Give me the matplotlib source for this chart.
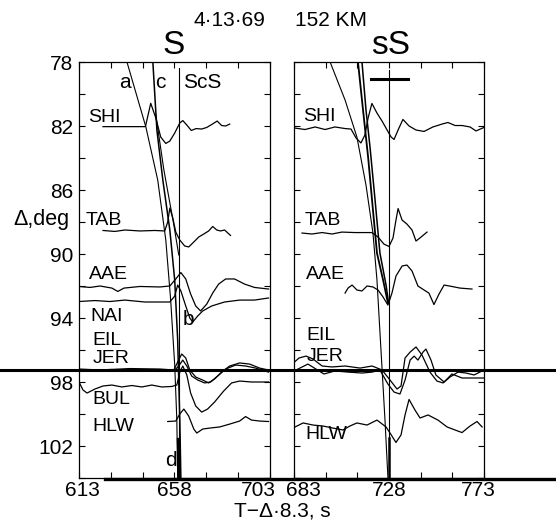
import matplotlib
matplotlib.use('Agg')
import matplotlib.pyplot as plt
from matplotlib.lines import Line2D
from matplotlib.transforms import ScaledTranslation

plt.rcParams['font.family'] = ['Liberation Sans', 'DejaVu Sans']

# ---- S window (left panel): (time s, distance deg) ----
shi_s_t = [624.3, 644.3, 646.8, 649.2, 651.5, 653.9, 655.8, 658.1, 660.5, 661.9, 663.8, 665.9,
           668.2, 670.8, 673.2, 675.5, 678.1, 680.2, 682.1, 684.0]
shi_s_d = [82.04, 82.04, 80.58, 81.5, 82.69, 83.09, 82.94, 82.44, 81.81, 81.66, 81.94, 82.28,
           82.16, 82.19, 82.09, 81.91, 81.69, 81.97, 82.0, 81.88]
tab_s_t = [624.3, 629.9, 634.6, 641.7, 648.7, 653.4, 654.8, 655.8, 657.2, 658.6, 660.5, 662.8,
           664.7, 667.1, 669.4, 671.8, 674.1, 676.0, 677.9, 679.7, 681.6, 684.4]
tab_s_d = [88.53, 88.59, 88.5, 88.56, 88.53, 88.56, 88.0, 87.13, 87.75, 88.63, 89.13, 89.5,
           89.56, 89.25, 88.94, 88.75, 88.56, 88.28, 88.5, 88.56, 88.5, 88.84]
aae_s_t = [613.0, 618.2, 622.9, 628.5, 631.3, 634.2, 641.7, 651.1, 655.8, 658.6, 661.0, 663.3,
           665.6, 668.0, 670.3, 673.2, 676.0, 678.8, 682.1, 686.3, 691.0, 695.7, 702.3]
aae_s_d = [92.03, 92.09, 92.0, 92.13, 92.34, 92.13, 92.03, 92.06, 92.0, 91.56, 91.16, 91.56,
           92.5, 93.25, 93.56, 93.13, 92.44, 91.88, 91.56, 91.56, 91.88, 92.09, 92.19]
nai_s_t = [613.0, 620.5, 627.6, 634.6, 644.0, 655.8, 658.1, 659.5, 661.0, 663.3, 665.2, 666.6,
           668.9, 671.3, 675.5, 681.6, 688.7, 695.7, 702.3]
nai_s_d = [92.97, 92.91, 92.97, 92.88, 93.0, 93.0, 92.63, 91.94, 92.31, 93.25, 94.0, 94.25,
           93.88, 93.56, 93.25, 93.0, 92.88, 92.88, 92.75]
eil_s_t = [613.0, 622.9, 637.0, 651.1, 657.7, 659.5, 661.4, 663.3, 665.2, 668.0, 671.3, 674.1,
           676.9, 680.2, 684.0, 688.7, 693.4, 698.1, 702.3]
eil_s_d = [97.19, 97.25, 97.16, 97.19, 97.25, 96.75, 96.25, 96.5, 97.25, 97.69, 97.88, 98.06,
           97.81, 97.38, 97.0, 96.81, 96.88, 97.13, 97.25]
jer_s_t = [613.0, 627.6, 641.7, 657.7, 660.0, 661.9, 663.8, 666.1, 669.0, 672.2, 675.0, 678.3,
           682.1, 686.8, 691.5, 696.2, 702.3]
jer_s_d = [97.31, 97.22, 97.28, 97.31, 97.0, 96.63, 97.0, 97.63, 97.88, 98.06, 98.0, 97.63,
           97.19, 96.94, 97.0, 97.13, 97.38]
bul_s_t = [613.0, 614.9, 616.8, 620.5, 624.3, 628.5, 633.2, 637.9, 642.6, 647.3, 652.0, 656.7,
           659.1, 660.5, 661.9, 663.8, 665.6, 668.0, 670.8, 673.6, 676.9, 681.2, 684.9, 688.7,
           694.3, 702.3]
bul_s_d = [98.0, 98.5, 98.69, 98.44, 98.25, 98.19, 98.31, 98.22, 98.31, 98.19, 98.31, 98.28,
           98.19, 97.38, 97.0, 97.56, 98.69, 99.5, 99.88, 99.69, 99.25, 98.56, 98.06, 97.94,
           98.0, 98.0]
hlw_s_t = [654.8, 658.6, 660.5, 662.4, 664.7, 667.1, 668.5, 671.3, 674.6, 679.3, 684.0, 688.7,
           691.5, 694.3, 698.1, 702.3]
hlw_s_d = [100.47, 100.44, 100.0, 99.69, 100.13, 100.94, 101.19, 100.94, 100.88, 100.81,
           100.63, 100.44, 100.16, 100.38, 100.44, 100.47]

# travel-time curves, S window
a_t = [635.6, 644.5, 650.1, 653.9, 656.2, 658.1, 659.1, 659.5]
a_d = [78.0, 82.06, 85.38, 89.13, 92.88, 96.94, 100.38, 104.0]
c_t = [647.8, 649.7, 652.5, 655.8, 658.1, 659.5, 660.5, 661.0]
c_d = [78.0, 82.25, 85.38, 88.5, 91.63, 95.38, 100.38, 104.0]
c2_t = [649.2, 653.0, 657.7, 660.0]
c2_d = [81.31, 84.75, 88.19, 90.06]
scs_t = 660.2

# ---- sS window (right panel) ----
shi_ss_t = [683.5, 688.2, 693.0, 697.7, 702.4, 707.2, 710.0, 712.4, 714.7, 716.6, 718.1, 719.9,
            722.3, 724.7, 727.1, 729.0, 730.4, 732.3, 734.6, 737.5, 740.8, 744.6, 748.8, 753.1,
            755.9, 759.3, 762.6, 766.4, 769.2, 773.0]
shi_ss_d = [82.13, 82.22, 82.06, 82.22, 82.06, 82.16, 82.19, 82.75, 83.06, 82.56, 81.5, 80.59,
            81.19, 81.69, 82.25, 82.69, 82.84, 82.25, 81.59, 82.0, 82.25, 82.34, 82.06, 81.88,
            81.78, 81.97, 81.97, 82.06, 82.31, 82.09]
tab_ss_t = [686.8, 691.5, 696.3, 701.0, 705.7, 711.9, 719.9, 722.8, 725.6, 728.0, 729.9, 731.3,
            732.3, 734.2, 736.5, 738.9, 740.8, 743.2, 746.0]
tab_ss_d = [88.69, 88.75, 88.66, 88.75, 88.63, 88.66, 88.66, 88.94, 89.38, 89.53, 89.0, 87.88,
            87.16, 87.88, 88.13, 88.5, 89.19, 88.94, 88.63]
aae_ss_t = [707.2, 708.6, 710.5, 712.8, 715.2, 717.6, 720.4, 722.8, 725.2, 727.5, 729.4, 731.3,
            734.2, 736.5, 738.9, 741.7, 744.6, 746.9, 749.3, 751.7, 754.1, 757.8, 761.6, 767.3]
aae_ss_d = [92.44, 92.13, 91.94, 92.25, 92.31, 92.0, 92.06, 92.25, 92.69, 93.19, 92.44, 91.38,
            90.75, 90.69, 91.06, 92.0, 92.25, 92.44, 93.16, 92.5, 91.94, 92.03, 92.13, 92.19]
eil_ss_t = [682.1, 685.4, 688.7, 692.0, 696.3, 701.0, 707.2, 714.3, 720.0, 724.7, 728.5, 731.8,
            733.7, 735.6, 738.0, 740.8, 743.6, 747.4, 750.7, 753.6, 756.9, 760.7, 764.5, 768.3,
            773.0]
eil_ss_d = [96.88, 96.5, 96.38, 96.56, 97.0, 97.06, 97.0, 97.13, 97.0, 97.25, 97.88, 98.44,
            98.25, 96.5, 96.13, 95.81, 96.31, 97.38, 97.94, 98.06, 97.69, 97.38, 97.44, 97.56,
            97.25]
jer_ss_t = [682.1, 685.8, 689.6, 693.4, 697.2, 702.4, 708.6, 715.2, 720.0, 723.7, 727.5, 730.4,
            733.2, 735.6, 738.0, 739.9, 741.7, 744.1, 745.5, 747.9, 750.2, 754.1, 757.8, 762.6,
            767.3, 773.0]
jer_ss_d = [97.38, 97.13, 96.88, 97.19, 97.5, 97.31, 97.38, 97.44, 97.38, 97.25, 98.13, 98.63,
            98.75, 97.88, 96.63, 96.38, 96.63, 96.13, 95.94, 96.63, 97.56, 98.0, 97.5, 97.75,
            97.75, 97.75]
hlw_ss_t = [683.5, 687.3, 692.0, 696.7, 701.5, 706.2, 709.5, 712.8, 717.6, 722.3, 726.6, 728.5,
            731.3, 733.7, 735.6, 737.5, 740.3, 742.7, 746.5, 751.2, 755.5, 759.3, 762.6, 766.4,
            769.7, 772.1]
hlw_ss_d = [100.81, 100.56, 100.69, 100.75, 100.88, 101.0, 100.75, 100.56, 100.69, 100.38,
            100.81, 101.19, 101.78, 101.31, 100.06, 99.09, 99.75, 100.25, 100.06, 100.38,
            100.81, 101.0, 101.16, 100.75, 100.47, 100.81]

# travel-time curves, sS window
a2_t = [700.1, 707.2, 712.8, 717.1, 720.4, 722.3, 724.2, 726.1, 727.5]
a2_d = [78.0, 80.38, 82.69, 85.69, 88.69, 91.63, 96.0, 100.38, 104.0]
b2_t = [713.3, 715.7, 718.1, 720.4, 722.3, 725.2, 727.5]
b2_d = [78.0, 81.0, 83.94, 87.25, 89.94, 91.63, 93.06]
c3_t = [715.2, 717.1, 719.0, 721.4, 723.7, 726.6, 727.8]
c3_d = [78.0, 81.0, 83.31, 86.63, 89.94, 91.94, 93.06]
ss_t = 728.2

left_labels = [('SHI', 617.1, 81.47), ('TAB', 616.3, 87.88), ('AAE', 617.7, 91.3),
               ('NAI', 618.2, 93.9), ('EIL', 619.1, 95.4), ('JER', 619.6, 96.5),
               ('BUL', 619.1, 99.1), ('HLW', 619.1, 100.75)]
right_labels = [('SHI', 687.3, 81.4), ('TAB', 688.2, 87.9), ('AAE', 688.7, 91.3),
                ('EIL', 688.7, 95.1), ('JER', 689.2, 96.4), ('HLW', 688.2, 101.25)]

fig = plt.figure(figsize=(5.56, 5.20), dpi=100)
ax1 = fig.add_axes([79 / 556, 42 / 520, 191 / 556, 416 / 520])
ax2 = fig.add_axes([294 / 556, 42 / 520, 190 / 556, 416 / 520])

lw = 0.9
for t, d in [(shi_s_t, shi_s_d), (tab_s_t, tab_s_d), (aae_s_t, aae_s_d), (nai_s_t, nai_s_d),
             (eil_s_t, eil_s_d), (jer_s_t, jer_s_d), (bul_s_t, bul_s_d), (hlw_s_t, hlw_s_d)]:
    ax1.plot(t, d, color='k', lw=lw)
ax1.plot(a_t, a_d, color='k', lw=0.8)
ax1.plot(c_t, c_d, color='k', lw=1.1)
ax1.plot(c2_t, c2_d, color='k', lw=0.8)
ax1.plot([scs_t, scs_t], [78.4, 104], color='k', lw=0.8)
ax1.plot([scs_t - 0.3, scs_t], [101.6, 104], color='k', lw=2.5)

for t, d in [(shi_ss_t, shi_ss_d), (tab_ss_t, tab_ss_d), (aae_ss_t, aae_ss_d),
             (eil_ss_t, eil_ss_d), (jer_ss_t, jer_ss_d), (hlw_ss_t, hlw_ss_d)]:
    ax2.plot(t, d, color='k', lw=lw)
ax2.plot(a2_t, a2_d, color='k', lw=0.8)
ax2.plot(b2_t, b2_d, color='k', lw=1.3)
ax2.plot(c3_t, c3_d, color='k', lw=1.1)
ax2.plot([ss_t, ss_t], [78.5, 104], color='k', lw=0.8)
ax2.plot([ss_t, ss_t], [101.5, 104], color='k', lw=1.8)
ax2.plot([719.7, 737.0], [79.06, 79.06], color='k', lw=2.2)

for ax, x0, x1 in [(ax1, 613, 703), (ax2, 683, 773)]:
    ax.set_xlim(x0, x1)
    ax.set_ylim(104, 78)
    ax.set_xticks([x0, x0 + 45, x1])
    ax.set_xticks([x0 + 15, x0 + 30, x0 + 60, x0 + 75], minor=True)
    ax.set_yticks(range(78, 104, 4))
    ax.set_yticks(range(80, 105, 4), minor=True)
    ax.tick_params(which='both', direction='in', top=True, right=True, length=4, width=0.8,
                   labelsize=15, pad=4)
    ax.tick_params(axis='x', pad=2.5)
    for s in ax.spines.values():
        s.set_linewidth(0.9)
ax2.set_yticklabels([])

# nudge the crowded x labels the way the original print has them
fig.canvas.draw()
shifts = [(ax1, 0, 3), (ax1, 2, -12), (ax2, 0, 9), (ax2, 2, -6)]
for ax, i, dx in shifts:
    lab = ax.get_xticklabels()[i]
    lab.set_transform(lab.get_transform() + ScaledTranslation(dx / 100, 0, fig.dpi_scale_trans))

fs = 14
for name, t, d in left_labels:
    ax1.text(t, d, name, fontsize=fs, va='center', ha='left')
for name, t, d in right_labels:
    ax2.text(t, d, name, fontsize=fs, va='center', ha='left')

ax1.text(634.7, 79.25, 'a', fontsize=15, va='center', ha='center')
ax1.text(651.1, 79.25, 'c', fontsize=15, va='center', ha='center')
ax1.text(662.0, 79.25, 'ScS', fontsize=15, va='center', ha='left')
ax1.text(662.0, 94.1, 'b', fontsize=15, va='center', ha='left')
ax1.text(653.6, 102.9, 'd', fontsize=15, va='center', ha='left')

fig.text(193 / 556, 1 - 21 / 520, '4·13·69', fontsize=15, ha='left', va='center')
fig.text(295 / 556, 1 - 21 / 520, '152 KM', fontsize=15, ha='left', va='center')
fig.text(174 / 556, 1 - 46 / 520, 'S', fontsize=24, ha='center', va='center')
fig.text(391 / 556, 1 - 46 / 520, 'sS', fontsize=24, ha='center', va='center')
fig.text(13 / 556, 1 - 220 / 520, 'Δ,deg', fontsize=15.5, ha='left', va='center')
fig.text(282 / 556, 1 - 511 / 520, 'T−Δ·8.3, s', fontsize=15, ha='center', va='center')

# heavy scan lines across the figure
fig.add_artist(Line2D([0, 1], [1 - 370 / 520, 1 - 370 / 520], transform=fig.transFigure,
                      color='k', lw=2.2))
fig.add_artist(Line2D([105 / 556, 1], [1 - 479 / 520, 1 - 479 / 520], transform=fig.transFigure,
                      color='k', lw=2.4))

fig.savefig('out.png', dpi=100)
